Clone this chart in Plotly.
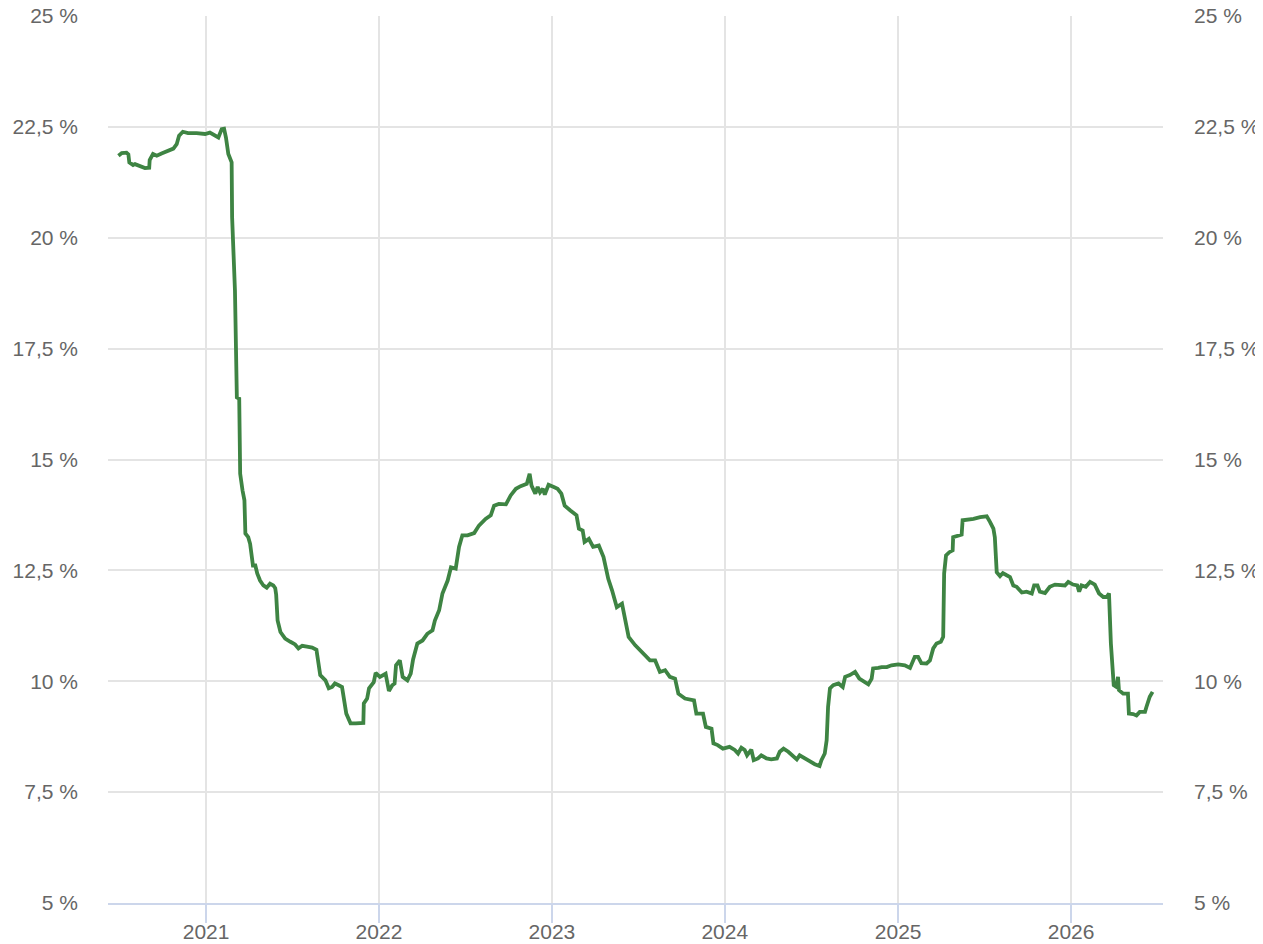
import plotly.graph_objects as go

dates = [
    "2020-06-30", "2020-07-07", "2020-07-17", "2020-07-21", "2020-07-23", "2020-07-31",
    "2020-08-04", "2020-08-14", "2020-08-25", "2020-09-03", "2020-09-04", "2020-09-11",
    "2020-09-19", "2020-09-29", "2020-10-17", "2020-10-24", "2020-10-31", "2020-11-05",
    "2020-11-13", "2020-11-24", "2020-12-12", "2020-12-30",
    "2021-01-09", "2021-01-20", "2021-01-27", "2021-02-03", "2021-02-08", "2021-02-12",
    "2021-02-17", "2021-02-24", "2021-02-25", "2021-03-03", "2021-03-07", "2021-03-12",
    "2021-03-14", "2021-03-19", "2021-03-23", "2021-03-25", "2021-03-31", "2021-04-04",
    "2021-04-10", "2021-04-15", "2021-04-19", "2021-04-25", "2021-05-02", "2021-05-09",
    "2021-05-16", "2021-05-23", "2021-05-27", "2021-05-29", "2021-06-01", "2021-06-07",
    "2021-06-17", "2021-06-28", "2021-07-08", "2021-07-15", "2021-07-23", "2021-08-02",
    "2021-08-13", "2021-08-22", "2021-08-30", "2021-09-10", "2021-09-17", "2021-09-24",
    "2021-09-30", "2021-10-08", "2021-10-15", "2021-10-24", "2021-11-02", "2021-11-13",
    "2021-11-29", "2021-11-30", "2021-12-07", "2021-12-11", "2021-12-21", "2021-12-25",
    "2022-01-03", "2022-01-15", "2022-01-22", "2022-01-29", "2022-02-03", "2022-02-06",
    "2022-02-14", "2022-02-20", "2022-03-02", "2022-03-09", "2022-03-14", "2022-03-23",
    "2022-04-03", "2022-04-13", "2022-04-24", "2022-04-29", "2022-05-08", "2022-05-15",
    "2022-05-26", "2022-06-02", "2022-06-12", "2022-06-19", "2022-06-26", "2022-07-07",
    "2022-07-21", "2022-07-31", "2022-08-14", "2022-08-25", "2022-09-01", "2022-09-11",
    "2022-09-26", "2022-10-06", "2022-10-17", "2022-10-27", "2022-11-09", "2022-11-15",
    "2022-11-19", "2022-11-27", "2022-12-02", "2022-12-07", "2022-12-13", "2022-12-17",
    "2022-12-25",
    "2023-01-05", "2023-01-13", "2023-01-21", "2023-01-28", "2023-02-09", "2023-02-22",
    "2023-02-27", "2023-03-07", "2023-03-11", "2023-03-20", "2023-03-29", "2023-04-10",
    "2023-04-20", "2023-04-30", "2023-05-08", "2023-05-18", "2023-05-29", "2023-06-05",
    "2023-06-12", "2023-06-26", "2023-07-06", "2023-07-17", "2023-07-27", "2023-08-07",
    "2023-08-17", "2023-08-28", "2023-09-07", "2023-09-18", "2023-09-25", "2023-10-09",
    "2023-10-23", "2023-10-28", "2023-11-02", "2023-11-16", "2023-11-22", "2023-12-04",
    "2023-12-08", "2023-12-17", "2023-12-28",
    "2024-01-11", "2024-01-22", "2024-01-29", "2024-02-05", "2024-02-12", "2024-02-17",
    "2024-02-26", "2024-03-02", "2024-03-11", "2024-03-18", "2024-03-29", "2024-04-08",
    "2024-04-15", "2024-04-20", "2024-04-26", "2024-05-04", "2024-05-14", "2024-05-24",
    "2024-06-01", "2024-06-07", "2024-06-18", "2024-06-28", "2024-07-09", "2024-07-19",
    "2024-07-23", "2024-07-30", "2024-08-03", "2024-08-06", "2024-08-10", "2024-08-17",
    "2024-08-28", "2024-09-06", "2024-09-11", "2024-09-21", "2024-10-02", "2024-10-11",
    "2024-10-16", "2024-10-30", "2024-11-06", "2024-11-09", "2024-11-20", "2024-11-27",
    "2024-12-08", "2024-12-18",
    "2025-01-01", "2025-01-15", "2025-01-26", "2025-02-05", "2025-02-12", "2025-02-19",
    "2025-03-02", "2025-03-09", "2025-03-16", "2025-03-23", "2025-04-01", "2025-04-06",
    "2025-04-08", "2025-04-12", "2025-04-19", "2025-04-26", "2025-04-27", "2025-05-06",
    "2025-05-15", "2025-05-17", "2025-05-26", "2025-06-09", "2025-06-23", "2025-07-07",
    "2025-07-14", "2025-07-21", "2025-07-24", "2025-07-28", "2025-08-04", "2025-08-10",
    "2025-08-18", "2025-08-25", "2025-09-01", "2025-09-08", "2025-09-19", "2025-09-29",
    "2025-10-10", "2025-10-15", "2025-10-22", "2025-10-27", "2025-11-07", "2025-11-17",
    "2025-11-28", "2025-12-08", "2025-12-19", "2025-12-26",
    "2026-01-05", "2026-01-14", "2026-01-18", "2026-01-23", "2026-02-01", "2026-02-10",
    "2026-02-20", "2026-03-01", "2026-03-10", "2026-03-17", "2026-03-22", "2026-03-26",
    "2026-03-29", "2026-04-01", "2026-04-07", "2026-04-10", "2026-04-12", "2026-04-21",
    "2026-05-01", "2026-05-03", "2026-05-12", "2026-05-19", "2026-05-26", "2026-06-06",
    "2026-06-09", "2026-06-16", "2026-06-22",
]

rates = [
    21.85, 21.91, 21.92, 21.88, 21.70, 21.64,
    21.66, 21.61, 21.57, 21.58, 21.75, 21.89,
    21.85, 21.90, 21.98, 22.01, 22.11, 22.30,
    22.39, 22.36, 22.36, 22.34,
    22.37, 22.31, 22.26, 22.45, 22.46, 22.26,
    21.89, 21.70, 20.46, 18.81, 16.40, 16.37,
    14.68, 14.30, 14.08, 13.33, 13.25, 13.10,
    12.61, 12.61, 12.43, 12.27, 12.16, 12.11,
    12.20, 12.16, 12.10, 11.95, 11.37, 11.11,
    10.96, 10.89, 10.83, 10.74, 10.80, 10.78,
    10.76, 10.71, 10.14, 10.02, 9.84, 9.87,
    9.95, 9.91, 9.87, 9.27, 9.05, 9.05,
    9.06, 9.50, 9.61, 9.84, 9.98, 10.19,
    10.10, 10.17, 9.78, 9.91, 9.95, 10.36,
    10.47, 10.10, 10.02, 10.17, 10.49, 10.85,
    10.92, 11.07, 11.15, 11.37, 11.60, 11.98,
    12.27, 12.57, 12.54, 13.03, 13.29, 13.29,
    13.34, 13.51, 13.66, 13.74, 13.96, 14.00,
    13.99, 14.19, 14.34, 14.40, 14.45, 14.68,
    14.41, 14.23, 14.38, 14.26, 14.34, 14.21,
    14.43,
    14.38, 14.34, 14.23, 13.96, 13.85, 13.74,
    13.44, 13.40, 13.14, 13.21, 13.03, 13.06,
    12.80, 12.31, 12.05, 11.67, 11.75, 11.37,
    11.00, 10.81, 10.70, 10.55, 10.47, 10.47,
    10.21, 10.25, 10.10, 10.06, 9.72, 9.61,
    9.57, 9.57, 9.27, 9.27, 8.97, 8.93,
    8.60, 8.56, 8.48,
    8.52, 8.45, 8.37, 8.50, 8.45, 8.33,
    8.46, 8.22, 8.26, 8.33, 8.26, 8.24,
    8.26, 8.26, 8.41, 8.48, 8.41, 8.30,
    8.24, 8.33, 8.26, 8.18, 8.13, 8.09,
    8.22, 8.37, 8.67, 9.42, 9.84, 9.91,
    9.95, 9.87, 10.10, 10.14, 10.21, 10.06,
    10.02, 9.93, 10.06, 10.29, 10.30, 10.32,
    10.32, 10.36,
    10.38, 10.36, 10.30, 10.55, 10.55, 10.41,
    10.40, 10.47, 10.74, 10.85, 10.89, 11.00,
    12.43, 12.84, 12.91, 12.95, 13.25, 13.29,
    13.31, 13.63, 13.64, 13.66, 13.70, 13.72,
    13.59, 13.44, 13.25, 12.46, 12.37, 12.44,
    12.39, 12.35, 12.16, 12.13, 12.00, 12.02,
    11.98, 12.16, 12.16, 12.02, 11.99, 12.13,
    12.18, 12.18, 12.16, 12.24,
    12.18, 12.16, 12.02, 12.16, 12.13, 12.24,
    12.18, 11.98, 11.90, 11.90, 11.98, 10.85,
    10.29, 9.91, 9.87, 10.10, 9.80, 9.72,
    9.72, 9.27, 9.26, 9.23, 9.31, 9.31,
    9.42, 9.65, 9.76,
]

y_ticks = [5, 7.5, 10, 12.5, 15, 17.5, 20, 22.5, 25]
y_tick_labels = ["5 %", "7,5 %", "10 %", "12,5 %", "15 %", "17,5 %", "20 %", "22,5 %", "25 %"]
x_ticks = ["2021-01-01", "2022-01-01", "2023-01-01", "2024-01-01", "2025-01-01", "2026-01-01"]
x_tick_labels = ["2021", "2022", "2023", "2024", "2025", "2026"]
x_range = ["2020-06-08", "2026-07-14"]

FONT = "Liberation Sans, Arial, sans-serif"
GRID = "#e4e4e4"
LABEL_FONT = dict(family=FONT, size=21, color="#666666")

fig = go.Figure()
fig.add_trace(go.Scatter(
    x=dates, y=rates, mode="lines",
    line=dict(color="#3e8443", width=3.8),
    hoverinfo="x+y", showlegend=False,
))
# invisible trace so the right-hand axis is drawn
fig.add_trace(go.Scatter(
    x=[dates[0]], y=[rates[0]], yaxis="y2", mode="lines",
    line=dict(width=0), hoverinfo="skip", showlegend=False, opacity=0,
))

yaxis_common = dict(
    range=[5, 25], tickvals=y_ticks, ticktext=y_tick_labels,
    tickfont=LABEL_FONT, ticks="", zeroline=False, fixedrange=True,
    automargin=False, ticklabeloverflow="allow",
)

# page body has an 8px margin, so the figure is sized to fit the window
fig.update_layout(
    width=1255, height=936,
    margin=dict(l=100, r=100, t=8, b=41),
    plot_bgcolor="white", paper_bgcolor="white",
    xaxis=dict(
        range=x_range, type="date",
        tickvals=x_ticks, ticktext=x_tick_labels,
        tickfont=LABEL_FONT,
        showgrid=True, gridcolor=GRID, gridwidth=2,
        showline=True, linecolor="#ccd6eb", linewidth=2,
        ticks="outside", ticklen=18, tickcolor="#ccd6eb", tickwidth=2,
        ticklabelstandoff=-9, ticklabeloverflow="allow",
        zeroline=False, automargin=False,
    ),
    yaxis=dict(showgrid=True, gridcolor=GRID, gridwidth=2,
               ticklabelstandoff=29, **yaxis_common),
    yaxis2=dict(overlaying="y", side="right", showgrid=False,
                ticklabelstandoff=30, **yaxis_common),
)

fig.write_html("out.html")
